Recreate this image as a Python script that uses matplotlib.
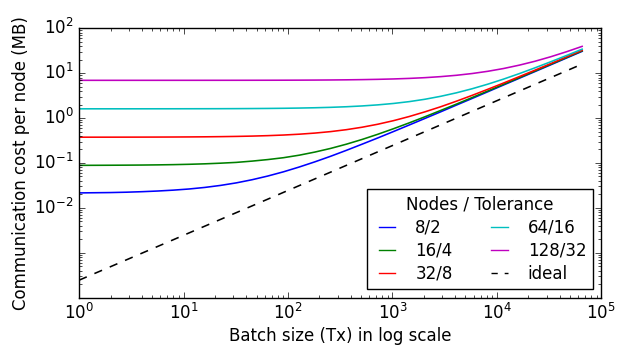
import matplotlib

matplotlib.use("Agg")
import matplotlib.pyplot as plt

plt.style.use("classic")
plt.rcParams.update({
    "figure.facecolor": "white",
    "savefig.facecolor": "white",
    "font.family": "DejaVu Sans",
    "lines.linewidth": 1.15,
})

# batch sizes (Tx) and per-node communication cost (MB)
batch = [1, 1.41, 2, 2.83, 4, 5.66, 8, 11.3, 16, 22.6, 32, 45.3, 64, 90.5, 128, 181,
         256, 362, 512, 724, 1024, 1448, 2048, 2896, 4096, 5793, 8192, 11585,
         16384, 23170, 32768, 46341, 65536]
cost_8_2 = [0.0215, 0.0217, 0.0219, 0.0223, 0.0229, 0.0237, 0.0248, 0.0263, 0.0285,
            0.0316, 0.0360, 0.0423, 0.0511, 0.0635, 0.0812, 0.106, 0.141, 0.191,
            0.262, 0.361, 0.502, 0.702, 0.984, 1.38, 1.95, 2.74, 3.87, 5.47,
            7.72, 10.9, 15.4, 21.8, 30.8]
cost_16_4 = [0.0885, 0.0887, 0.0890, 0.0894, 0.0899, 0.0907, 0.0918, 0.0934, 0.0957,
             0.0989, 0.103, 0.110, 0.119, 0.131, 0.149, 0.175, 0.211, 0.262,
             0.334, 0.436, 0.580, 0.783, 1.07, 1.48, 2.05, 2.87, 4.02, 5.65,
             7.95, 11.2, 15.8, 22.3, 31.5]
cost_32_8 = [0.3755, 0.3757, 0.3760, 0.3764, 0.3770, 0.3778, 0.3789, 0.3805, 0.3828,
             0.3861, 0.3907, 0.3972, 0.4064, 0.4193, 0.4377, 0.4637, 0.500, 0.552,
             0.626, 0.730, 0.877, 1.085, 1.38, 1.79, 2.38, 3.21, 4.39, 6.05,
             8.40, 11.7, 16.4, 23.1, 32.5]
cost_64_16 = [1.610, 1.611, 1.611, 1.611, 1.612, 1.613, 1.614, 1.616, 1.618,
              1.621, 1.626, 1.633, 1.642, 1.655, 1.674, 1.701, 1.738, 1.791,
              1.866, 1.972, 2.12, 2.33, 2.63, 3.06, 3.66, 4.51, 5.71, 7.40,
              9.80, 13.2, 18.0, 24.8, 34.4]
cost_128_32 = [6.950, 6.951, 6.951, 6.951, 6.952, 6.953, 6.954, 6.956, 6.958,
               6.961, 6.966, 6.973, 6.982, 6.995, 7.014, 7.041, 7.078, 7.131,
               7.206, 7.312, 7.46, 7.67, 7.97, 8.40, 9.00, 9.85, 11.05, 12.74,
               15.14, 18.5, 23.3, 30.1, 39.7]
ideal = [0.000244, 0.000345, 0.000488, 0.000691, 0.000977, 0.00138, 0.00195, 0.00276,
         0.00391, 0.00552, 0.00781, 0.01105, 0.0156, 0.0221, 0.03125, 0.0442,
         0.0625, 0.0884, 0.125, 0.177, 0.25, 0.354, 0.5, 0.707, 1.0, 1.414,
         2.0, 2.83, 4.0, 5.66, 8.0, 11.3, 16.0]

series = [
    ("8/2", cost_8_2, "b-"),
    ("16/4", cost_16_4, "g-"),
    ("32/8", cost_32_8, "r-"),
    ("64/16", cost_64_16, "c-"),
    ("128/32", cost_128_32, "m-"),
    ("ideal", ideal, "k--"),
]

ytick_vals = [1e-4, 1e-3, 1e-2, 1e-1, 1e0, 1e1, 1e2]
ytick_labels = ["", "",
                r"$\mathdefault{10^{-2}}$", r"$\mathdefault{10^{-1}}$",
                r"$\mathdefault{10^{0}}$", r"$\mathdefault{10^{1}}$",
                r"$\mathdefault{10^{2}}$"]

fig, ax = plt.subplots(figsize=(6.18, 3.46), dpi=100)
fig.subplots_adjust(left=0.128, right=0.973, bottom=0.140, top=0.918)

for label, vals, fmt in series:
    ax.plot(batch, vals, fmt, label=label)

ax.set_xscale("log")
ax.set_yscale("log")
ax.set_xlim(1, 1e5)
ax.set_ylim(1e-4, 1e2)
ax.set_yticks(ytick_vals, labels=ytick_labels)

ax.set_xlabel("Batch size (Tx) in log scale", fontsize=12, labelpad=2.5)
ax.set_ylabel("Communication cost per node (MB)", fontsize=12, labelpad=3)

# old-style legend: short handles, wider gap to the text
leg = ax.legend(loc="lower right", ncol=2, fontsize=12,
                title="Nodes / Tolerance", handlelength=1.6,
                handletextpad=0.9, labelspacing=0.3)
leg.get_title().set_fontsize(12)
for h in leg.get_lines():
    h.set_linewidth(1.0)
leg.get_lines()[-1].set_dashes([4.5, 5])

fig.savefig("out.png", dpi=100)
